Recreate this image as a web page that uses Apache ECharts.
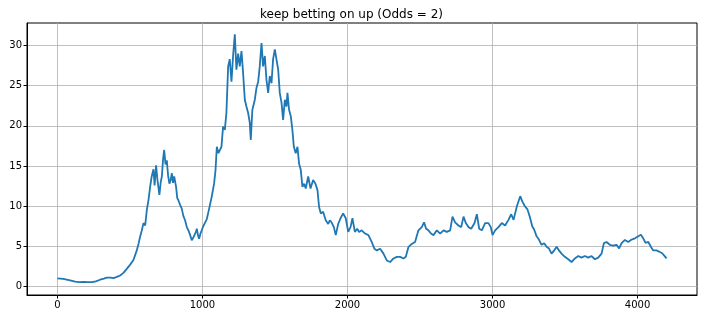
<!DOCTYPE html>
<html>
<head>
<meta charset="utf-8">
<script src="https://cdn.jsdelivr.net/npm/echarts@6/dist/echarts.min.js"></script>
<style>html,body{margin:0;padding:0;background:#fff}#c{width:703px;height:319px}</style>
</head>
<body>
<div id="c"></div>
<script>
const titleText = 'keep betting on up (Odds = 2)';
const xTicks = [0, 1000, 2000, 3000, 4000];
const yTicks = [0, 5, 10, 15, 20, 25, 30];
const xs = [0,40,87,122,150,179,210,237,265,294,320,340,365,386,410,432,455,478,500,524,547,560,570,582,593,605,616,628,639,650,662,670,680,690,703,712,720,728,736,745,754,763,772,780,789,797,805,818,826,834,845,857,868,880,892,903,915,926,937,949,955,961,970,977,986,995,1005,1018,1030,1041,1052,1064,1072,1080,1090,1099,1110,1119,1131,1142,1154,1165,1177,1188,1200,1211,1223,1234,1246,1257,1269,1280,1292,1303,1315,1326,1333,1344,1361,1372,1384,1395,1407,1418,1430,1441,1453,1464,1476,1487,1499,1510,1522,1533,1545,1556,1568,1579,1586,1597,1609,1620,1630,1643,1655,1666,1678,1689,1701,1712,1729,1745,1763,1779,1793,1804,1816,1832,1850,1867,1878,1890,1906,1919,1936,1952,1970,1988,2005,2021,2034,2051,2067,2080,2098,2121,2144,2167,2186,2202,2225,2248,2271,2294,2317,2340,2363,2386,2402,2420,2443,2466,2489,2512,2528,2542,2558,2576,2593,2616,2639,2662,2685,2708,2724,2742,2765,2784,2800,2816,2834,2853,2876,2892,2908,2926,2949,2972,2988,3000,3018,3041,3064,3087,3110,3129,3145,3168,3191,3205,3223,3241,3257,3274,3287,3304,3320,3338,3356,3373,3389,3407,3425,3442,3458,3476,3499,3522,3545,3568,3591,3614,3637,3660,3683,3706,3729,3752,3768,3786,3809,3832,3855,3873,3890,3913,3936,3959,3982,4005,4023,4039,4055,4074,4092,4108,4131,4154,4170,4184,4200];
const ys = [1.02,0.95,0.78,0.62,0.56,0.58,0.55,0.54,0.65,0.85,0.98,1.1,1.12,1.05,1.2,1.38,1.7,2.2,2.7,3.3,4.5,5.4,6.2,7.0,7.9,7.6,9.5,10.8,12.4,13.7,14.6,12.6,15.1,13.2,11.4,13.0,13.7,15.8,17.0,15.2,15.7,13.8,12.8,13.2,14.1,12.9,13.7,12.4,11.0,10.75,10.2,9.7,8.8,8.25,7.4,7.0,6.4,5.75,6.1,6.2,6.8,7.2,6.3,5.95,6.6,7.0,7.5,7.6,8.4,9.3,10.2,11.2,12.0,12.8,14.5,17.4,16.6,16.6,17.4,19.9,19.5,21.6,27.4,28.3,25.5,28.7,31.4,27.0,29.0,27.4,29.3,26.6,23.25,22.4,21.6,20.4,18.25,22.0,23.25,24.7,25.5,27.4,30.3,27.4,28.7,25.75,24.1,26.2,25.3,28.3,29.5,28.3,27.0,24.1,22.9,20.75,23.25,22.4,24.1,22.0,21.2,19.5,17.4,16.6,17.4,15.3,14.5,12.4,12.8,12.2,13.7,12.2,13.25,12.8,12.0,9.9,9.1,9.3,8.25,7.8,8.25,8.0,7.4,6.4,7.8,8.5,9.1,8.5,6.8,7.4,8.5,6.8,7.2,6.8,7.0,6.6,6.4,5.55,4.7,4.5,4.7,4.1,3.25,3.05,3.5,3.7,3.7,3.5,3.7,4.9,5.3,5.55,7.0,7.4,8.0,7.2,7.0,6.6,6.4,7.0,6.6,7.0,6.8,7.0,8.7,8.0,7.6,7.4,8.7,7.9,7.4,7.2,7.9,9.0,7.2,7.0,7.9,7.9,7.4,6.4,7.0,7.4,7.9,7.6,8.3,9.0,8.3,10.0,11.25,10.6,10.0,9.6,8.7,7.5,7.1,6.25,5.85,5.2,5.4,4.95,4.75,4.1,4.5,4.95,4.5,4.1,3.7,3.4,3.05,3.5,3.8,3.6,3.8,3.6,3.8,3.4,3.6,4.1,5.4,5.55,5.2,5.1,5.2,4.75,5.4,5.8,5.55,5.85,6.0,6.25,6.45,6.0,5.45,5.55,4.95,4.5,4.5,4.3,4.15,3.85,3.5];

const chart = echarts.init(document.getElementById('c'), null, {renderer: 'canvas'});
const font = 'DejaVu Sans';
chart.setOption({
  animation: false,
  backgroundColor: '#fff',
  title: {
    text: titleText, left: 'center', top: 4,
    textStyle: {fontFamily: font, fontSize: 12, fontWeight: 'normal', color: '#000'}
  },
  grid: {left: 27, right: 6, top: 23, bottom: 24, show: true, borderColor: '#000', borderWidth: 1, backgroundColor: 'transparent'},
  xAxis: {
    type: 'value', min: -210, max: 4410,
    axisLine: {show: true, onZero: false, lineStyle: {color: '#000', width: 1}},
    axisTick: {show: true, inside: false, length: 3.5, customValues: xTicks, lineStyle: {color: '#000'}},
    axisLabel: {customValues: xTicks, formatter: v => String(v), fontFamily: font, fontSize: 10, color: '#000', margin: 5},
    splitLine: {show: true, lineStyle: {color: '#b0b0b0', width: 0.8}}
  },
  yAxis: {
    type: 'value', min: -1.05, max: 32.8,
    axisLine: {show: true, onZero: false, lineStyle: {color: '#000', width: 1}},
    axisTick: {show: true, inside: false, length: 3.5, customValues: yTicks, lineStyle: {color: '#000'}},
    axisLabel: {customValues: yTicks, formatter: v => String(v), fontFamily: font, fontSize: 10, color: '#000', margin: 5},
    splitLine: {show: true, lineStyle: {color: '#b0b0b0', width: 0.8}}
  },
  series: [{
    type: 'line',
    data: xs.map((x, i) => [x, ys[i]]),
    showSymbol: false,
    lineStyle: {color: '#1f77b4', width: 1.8},
    itemStyle: {color: '#1f77b4'}
  }]
});
</script>
</body>
</html>
